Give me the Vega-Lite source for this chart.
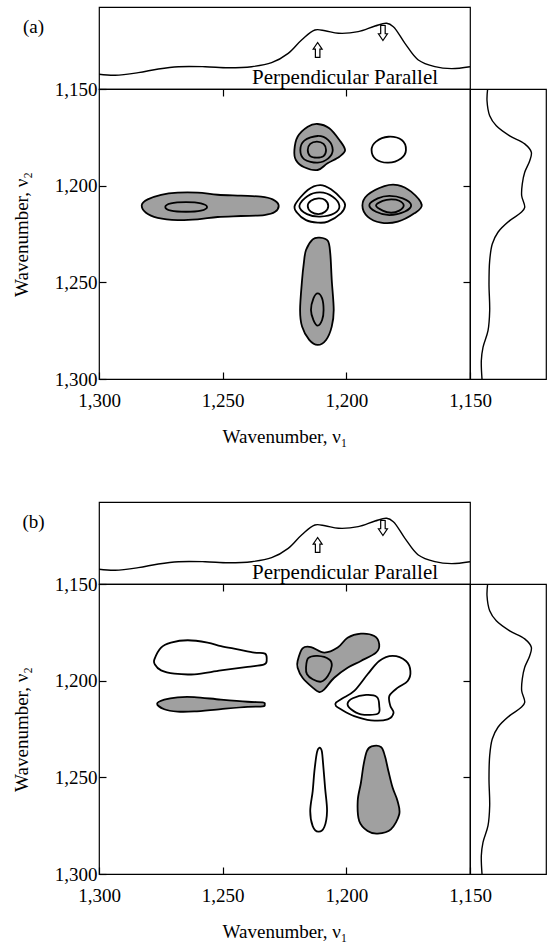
{
  "$schema": "https://vega.github.io/schema/vega-lite/v6.json",
  "padding": {"left": 11, "top": 6, "right": 0, "bottom": 0},
  "datasets": {
    "spectrum_top": [
      {"wn": 1300.0, "absorbance": 0.180}, {"wn": 1293.5, "absorbance": 0.167}, {"wn": 1284.1, "absorbance": 0.199},
      {"wn": 1276.0, "absorbance": 0.244}, {"wn": 1267.9, "absorbance": 0.272}, {"wn": 1257.1, "absorbance": 0.272},
      {"wn": 1247.7, "absorbance": 0.260}, {"wn": 1238.3, "absorbance": 0.272}, {"wn": 1230.2, "absorbance": 0.321},
      {"wn": 1223.5, "absorbance": 0.435}, {"wn": 1218.1, "absorbance": 0.598}, {"wn": 1212.7, "absorbance": 0.720},
      {"wn": 1208.6, "absorbance": 0.711}, {"wn": 1203.2, "absorbance": 0.679}, {"wn": 1195.2, "absorbance": 0.699},
      {"wn": 1188.4, "absorbance": 0.768}, {"wn": 1183.7, "absorbance": 0.801}, {"wn": 1181.0, "absorbance": 0.760},
      {"wn": 1176.3, "absorbance": 0.557}, {"wn": 1170.9, "absorbance": 0.354}, {"wn": 1164.2, "absorbance": 0.272},
      {"wn": 1157.4, "absorbance": 0.248}, {"wn": 1150.0, "absorbance": 0.272}
    ],
    "spectrum_side": [
      {"wn": 1150.0, "absorbance": 0.232}, {"wn": 1156.1, "absorbance": 0.224}, {"wn": 1163.8, "absorbance": 0.259},
      {"wn": 1169.0, "absorbance": 0.346}, {"wn": 1174.2, "absorbance": 0.522}, {"wn": 1178.4, "absorbance": 0.720},
      {"wn": 1182.7, "absorbance": 0.807}, {"wn": 1187.1, "absorbance": 0.786}, {"wn": 1193.1, "absorbance": 0.720},
      {"wn": 1199.1, "absorbance": 0.688}, {"wn": 1205.2, "absorbance": 0.680}, {"wn": 1211.2, "absorbance": 0.720},
      {"wn": 1213.8, "absorbance": 0.675}, {"wn": 1218.1, "absorbance": 0.522}, {"wn": 1224.1, "absorbance": 0.368},
      {"wn": 1230.2, "absorbance": 0.293}, {"wn": 1238.8, "absorbance": 0.259}, {"wn": 1250.9, "absorbance": 0.250},
      {"wn": 1264.7, "absorbance": 0.259}, {"wn": 1275.0, "absorbance": 0.237}, {"wn": 1283.6, "absorbance": 0.171},
      {"wn": 1290.5, "absorbance": 0.149}, {"wn": 1300.0, "absorbance": 0.158}
    ],
    "top_words": [
      {"wn": 1200.5, "absorbance": 0.06, "label": "Perpendicular Parallel"}
    ],
    "top_arrows": [
      {"wn": 1211.6, "absorbance": 0.476, "polarization": "perpendicular"},
      {"wn": 1185.2, "absorbance": 0.683, "polarization": "parallel"}
    ],
    "contours_a": [
      {"id": "a1", "level": "outer", "sign": "negative", "i": 0, "v1": 1282.7, "v2": 1210.0},
      {"id": "a1", "level": "outer", "sign": "negative", "i": 1, "v1": 1280.3, "v2": 1207.1},
      {"id": "a1", "level": "outer", "sign": "negative", "i": 2, "v1": 1274.9, "v2": 1204.7},
      {"id": "a1", "level": "outer", "sign": "negative", "i": 3, "v1": 1268.2, "v2": 1203.6},
      {"id": "a1", "level": "outer", "sign": "negative", "i": 4, "v1": 1260.1, "v2": 1203.6},
      {"id": "a1", "level": "outer", "sign": "negative", "i": 5, "v1": 1252.0, "v2": 1204.7},
      {"id": "a1", "level": "outer", "sign": "negative", "i": 6, "v1": 1242.6, "v2": 1205.2},
      {"id": "a1", "level": "outer", "sign": "negative", "i": 7, "v1": 1234.5, "v2": 1205.7},
      {"id": "a1", "level": "outer", "sign": "negative", "i": 8, "v1": 1229.8, "v2": 1207.1},
      {"id": "a1", "level": "outer", "sign": "negative", "i": 9, "v1": 1227.4, "v2": 1210.0},
      {"id": "a1", "level": "outer", "sign": "negative", "i": 10, "v1": 1228.8, "v2": 1213.5},
      {"id": "a1", "level": "outer", "sign": "negative", "i": 11, "v1": 1233.2, "v2": 1215.2},
      {"id": "a1", "level": "outer", "sign": "negative", "i": 12, "v1": 1242.6, "v2": 1215.7},
      {"id": "a1", "level": "outer", "sign": "negative", "i": 13, "v1": 1252.0, "v2": 1216.2},
      {"id": "a1", "level": "outer", "sign": "negative", "i": 14, "v1": 1260.1, "v2": 1217.4},
      {"id": "a1", "level": "outer", "sign": "negative", "i": 15, "v1": 1268.2, "v2": 1217.8},
      {"id": "a1", "level": "outer", "sign": "negative", "i": 16, "v1": 1276.3, "v2": 1216.6},
      {"id": "a1", "level": "outer", "sign": "negative", "i": 17, "v1": 1281.0, "v2": 1214.0},
      {"id": "a1i", "level": "inner", "sign": "negative", "i": 0, "v1": 1273.2, "v2": 1211.0},
      {"id": "a1i", "level": "inner", "sign": "negative", "i": 1, "v1": 1270.9, "v2": 1209.1},
      {"id": "a1i", "level": "inner", "sign": "negative", "i": 2, "v1": 1264.8, "v2": 1208.5},
      {"id": "a1i", "level": "inner", "sign": "negative", "i": 3, "v1": 1258.8, "v2": 1209.1},
      {"id": "a1i", "level": "inner", "sign": "negative", "i": 4, "v1": 1256.3, "v2": 1211.0},
      {"id": "a1i", "level": "inner", "sign": "negative", "i": 5, "v1": 1258.8, "v2": 1212.9},
      {"id": "a1i", "level": "inner", "sign": "negative", "i": 6, "v1": 1264.8, "v2": 1213.5},
      {"id": "a1i", "level": "inner", "sign": "negative", "i": 7, "v1": 1270.9, "v2": 1212.9},
      {"id": "a2", "level": "outer", "sign": "positive", "i": 0, "v1": 1220.75, "v2": 1210.0},
      {"id": "a2", "level": "outer", "sign": "positive", "i": 1, "v1": 1215.6, "v2": 1202.2},
      {"id": "a2", "level": "outer", "sign": "positive", "i": 2, "v1": 1210.6, "v2": 1199.7},
      {"id": "a2", "level": "outer", "sign": "positive", "i": 3, "v1": 1206.2, "v2": 1201.9},
      {"id": "a2", "level": "outer", "sign": "positive", "i": 4, "v1": 1201.5, "v2": 1207.4},
      {"id": "a2", "level": "outer", "sign": "positive", "i": 5, "v1": 1200.5, "v2": 1210.3},
      {"id": "a2", "level": "outer", "sign": "positive", "i": 6, "v1": 1202.2, "v2": 1214.3},
      {"id": "a2", "level": "outer", "sign": "positive", "i": 7, "v1": 1207.5, "v2": 1218.6},
      {"id": "a2", "level": "outer", "sign": "positive", "i": 8, "v1": 1211.6, "v2": 1219.1},
      {"id": "a2", "level": "outer", "sign": "positive", "i": 9, "v1": 1216.3, "v2": 1217.8},
      {"id": "a2", "level": "outer", "sign": "positive", "i": 10, "v1": 1219.9, "v2": 1214.0},
      {"id": "a2m", "level": "inner", "sign": "positive", "i": 0, "v1": 1219.0, "v2": 1210.5},
      {"id": "a2m", "level": "inner", "sign": "positive", "i": 1, "v1": 1215.6, "v2": 1205.3},
      {"id": "a2m", "level": "inner", "sign": "positive", "i": 2, "v1": 1210.6, "v2": 1203.5},
      {"id": "a2m", "level": "inner", "sign": "positive", "i": 3, "v1": 1205.5, "v2": 1205.7},
      {"id": "a2m", "level": "inner", "sign": "positive", "i": 4, "v1": 1202.8, "v2": 1210.5},
      {"id": "a2m", "level": "inner", "sign": "positive", "i": 5, "v1": 1204.8, "v2": 1214.3},
      {"id": "a2m", "level": "inner", "sign": "positive", "i": 6, "v1": 1210.6, "v2": 1216.0},
      {"id": "a2m", "level": "inner", "sign": "positive", "i": 7, "v1": 1215.9, "v2": 1214.7},
      {"id": "a2i", "level": "inner", "sign": "positive", "i": 0, "v1": 1215.6, "v2": 1210.5},
      {"id": "a2i", "level": "inner", "sign": "positive", "i": 1, "v1": 1214.3, "v2": 1207.8},
      {"id": "a2i", "level": "inner", "sign": "positive", "i": 2, "v1": 1211.3, "v2": 1206.6},
      {"id": "a2i", "level": "inner", "sign": "positive", "i": 3, "v1": 1208.6, "v2": 1207.4},
      {"id": "a2i", "level": "inner", "sign": "positive", "i": 4, "v1": 1207.3, "v2": 1210.5},
      {"id": "a2i", "level": "inner", "sign": "positive", "i": 5, "v1": 1208.6, "v2": 1213.5},
      {"id": "a2i", "level": "inner", "sign": "positive", "i": 6, "v1": 1211.3, "v2": 1214.7},
      {"id": "a2i", "level": "inner", "sign": "positive", "i": 7, "v1": 1214.3, "v2": 1213.5},
      {"id": "a3", "level": "outer", "sign": "negative", "i": 0, "v1": 1193.5, "v2": 1210.3},
      {"id": "a3", "level": "outer", "sign": "negative", "i": 1, "v1": 1191.4, "v2": 1204.8},
      {"id": "a3", "level": "outer", "sign": "negative", "i": 2, "v1": 1184.6, "v2": 1200.2},
      {"id": "a3", "level": "outer", "sign": "negative", "i": 3, "v1": 1179.2, "v2": 1199.7},
      {"id": "a3", "level": "outer", "sign": "negative", "i": 4, "v1": 1173.8, "v2": 1203.1},
      {"id": "a3", "level": "outer", "sign": "negative", "i": 5, "v1": 1169.5, "v2": 1210.0},
      {"id": "a3", "level": "outer", "sign": "negative", "i": 6, "v1": 1172.5, "v2": 1214.3},
      {"id": "a3", "level": "outer", "sign": "negative", "i": 7, "v1": 1179.2, "v2": 1218.6},
      {"id": "a3", "level": "outer", "sign": "negative", "i": 8, "v1": 1186.0, "v2": 1219.1},
      {"id": "a3", "level": "outer", "sign": "negative", "i": 9, "v1": 1191.4, "v2": 1216.0},
      {"id": "a3m", "level": "inner", "sign": "negative", "i": 0, "v1": 1190.7, "v2": 1210.0},
      {"id": "a3m", "level": "inner", "sign": "negative", "i": 1, "v1": 1187.3, "v2": 1206.6},
      {"id": "a3m", "level": "inner", "sign": "negative", "i": 2, "v1": 1182.6, "v2": 1205.3},
      {"id": "a3m", "level": "inner", "sign": "negative", "i": 3, "v1": 1177.2, "v2": 1206.6},
      {"id": "a3m", "level": "inner", "sign": "negative", "i": 4, "v1": 1173.8, "v2": 1210.0},
      {"id": "a3m", "level": "inner", "sign": "negative", "i": 5, "v1": 1176.5, "v2": 1213.5},
      {"id": "a3m", "level": "inner", "sign": "negative", "i": 6, "v1": 1182.6, "v2": 1215.2},
      {"id": "a3m", "level": "inner", "sign": "negative", "i": 7, "v1": 1188.0, "v2": 1213.5},
      {"id": "a3i", "level": "inner", "sign": "negative", "i": 0, "v1": 1188.0, "v2": 1210.3},
      {"id": "a3i", "level": "inner", "sign": "negative", "i": 1, "v1": 1185.3, "v2": 1207.9},
      {"id": "a3i", "level": "inner", "sign": "negative", "i": 2, "v1": 1181.9, "v2": 1207.1},
      {"id": "a3i", "level": "inner", "sign": "negative", "i": 3, "v1": 1178.6, "v2": 1207.8},
      {"id": "a3i", "level": "inner", "sign": "negative", "i": 4, "v1": 1176.8, "v2": 1210.3},
      {"id": "a3i", "level": "inner", "sign": "negative", "i": 5, "v1": 1178.6, "v2": 1212.9},
      {"id": "a3i", "level": "inner", "sign": "negative", "i": 6, "v1": 1181.9, "v2": 1214.0},
      {"id": "a3i", "level": "inner", "sign": "negative", "i": 7, "v1": 1185.3, "v2": 1212.9},
      {"id": "a4", "level": "outer", "sign": "negative", "i": 0, "v1": 1216.3, "v2": 1233.3},
      {"id": "a4", "level": "outer", "sign": "negative", "i": 1, "v1": 1213.6, "v2": 1227.8},
      {"id": "a4", "level": "outer", "sign": "negative", "i": 2, "v1": 1210.9, "v2": 1226.9},
      {"id": "a4", "level": "outer", "sign": "negative", "i": 3, "v1": 1207.5, "v2": 1228.5},
      {"id": "a4", "level": "outer", "sign": "negative", "i": 4, "v1": 1206.5, "v2": 1235.0},
      {"id": "a4", "level": "outer", "sign": "negative", "i": 5, "v1": 1205.9, "v2": 1248.8},
      {"id": "a4", "level": "outer", "sign": "negative", "i": 6, "v1": 1205.1, "v2": 1264.3},
      {"id": "a4", "level": "outer", "sign": "negative", "i": 7, "v1": 1205.9, "v2": 1272.9},
      {"id": "a4", "level": "outer", "sign": "negative", "i": 8, "v1": 1208.2, "v2": 1279.8},
      {"id": "a4", "level": "outer", "sign": "negative", "i": 9, "v1": 1211.6, "v2": 1282.4},
      {"id": "a4", "level": "outer", "sign": "negative", "i": 10, "v1": 1215.0, "v2": 1279.8},
      {"id": "a4", "level": "outer", "sign": "negative", "i": 11, "v1": 1217.9, "v2": 1272.9},
      {"id": "a4", "level": "outer", "sign": "negative", "i": 12, "v1": 1218.7, "v2": 1264.3},
      {"id": "a4", "level": "outer", "sign": "negative", "i": 13, "v1": 1217.9, "v2": 1248.8},
      {"id": "a4", "level": "outer", "sign": "negative", "i": 14, "v1": 1217.2, "v2": 1240.2},
      {"id": "a4i", "level": "inner", "sign": "negative", "i": 0, "v1": 1214.3, "v2": 1264.3},
      {"id": "a4i", "level": "inner", "sign": "negative", "i": 1, "v1": 1213.3, "v2": 1258.3},
      {"id": "a4i", "level": "inner", "sign": "negative", "i": 2, "v1": 1211.6, "v2": 1255.7},
      {"id": "a4i", "level": "inner", "sign": "negative", "i": 3, "v1": 1209.8, "v2": 1258.3},
      {"id": "a4i", "level": "inner", "sign": "negative", "i": 4, "v1": 1209.2, "v2": 1264.3},
      {"id": "a4i", "level": "inner", "sign": "negative", "i": 5, "v1": 1209.8, "v2": 1269.5},
      {"id": "a4i", "level": "inner", "sign": "negative", "i": 6, "v1": 1211.6, "v2": 1272.4},
      {"id": "a4i", "level": "inner", "sign": "negative", "i": 7, "v1": 1213.3, "v2": 1269.5},
      {"id": "a5", "level": "outer", "sign": "negative", "i": 0, "v1": 1221.0, "v2": 1181.6},
      {"id": "a5", "level": "outer", "sign": "negative", "i": 1, "v1": 1219.7, "v2": 1174.7},
      {"id": "a5", "level": "outer", "sign": "negative", "i": 2, "v1": 1215.6, "v2": 1169.5},
      {"id": "a5", "level": "outer", "sign": "negative", "i": 3, "v1": 1211.6, "v2": 1168.1},
      {"id": "a5", "level": "outer", "sign": "negative", "i": 4, "v1": 1206.9, "v2": 1170.3},
      {"id": "a5", "level": "outer", "sign": "negative", "i": 5, "v1": 1202.8, "v2": 1176.4},
      {"id": "a5", "level": "outer", "sign": "negative", "i": 6, "v1": 1200.5, "v2": 1181.6},
      {"id": "a5", "level": "outer", "sign": "negative", "i": 7, "v1": 1202.8, "v2": 1185.0},
      {"id": "a5", "level": "outer", "sign": "negative", "i": 8, "v1": 1207.6, "v2": 1188.4},
      {"id": "a5", "level": "outer", "sign": "negative", "i": 9, "v1": 1211.6, "v2": 1191.9},
      {"id": "a5", "level": "outer", "sign": "negative", "i": 10, "v1": 1217.0, "v2": 1190.5},
      {"id": "a5", "level": "outer", "sign": "negative", "i": 11, "v1": 1220.4, "v2": 1186.7},
      {"id": "a5m", "level": "inner", "sign": "negative", "i": 0, "v1": 1218.6, "v2": 1181.6},
      {"id": "a5m", "level": "inner", "sign": "negative", "i": 1, "v1": 1217.0, "v2": 1176.7},
      {"id": "a5m", "level": "inner", "sign": "negative", "i": 2, "v1": 1211.6, "v2": 1174.3},
      {"id": "a5m", "level": "inner", "sign": "negative", "i": 3, "v1": 1207.3, "v2": 1176.4},
      {"id": "a5m", "level": "inner", "sign": "negative", "i": 4, "v1": 1205.5, "v2": 1181.6},
      {"id": "a5m", "level": "inner", "sign": "negative", "i": 5, "v1": 1207.3, "v2": 1185.9},
      {"id": "a5m", "level": "inner", "sign": "negative", "i": 6, "v1": 1211.6, "v2": 1188.1},
      {"id": "a5m", "level": "inner", "sign": "negative", "i": 7, "v1": 1217.0, "v2": 1186.4},
      {"id": "a5i", "level": "inner", "sign": "negative", "i": 0, "v1": 1215.6, "v2": 1181.6},
      {"id": "a5i", "level": "inner", "sign": "negative", "i": 1, "v1": 1214.6, "v2": 1178.4},
      {"id": "a5i", "level": "inner", "sign": "negative", "i": 2, "v1": 1211.9, "v2": 1177.2},
      {"id": "a5i", "level": "inner", "sign": "negative", "i": 3, "v1": 1209.2, "v2": 1178.4},
      {"id": "a5i", "level": "inner", "sign": "negative", "i": 4, "v1": 1208.2, "v2": 1181.6},
      {"id": "a5i", "level": "inner", "sign": "negative", "i": 5, "v1": 1209.2, "v2": 1184.7},
      {"id": "a5i", "level": "inner", "sign": "negative", "i": 6, "v1": 1211.9, "v2": 1185.5},
      {"id": "a5i", "level": "inner", "sign": "negative", "i": 7, "v1": 1214.6, "v2": 1184.7},
      {"id": "a6", "level": "outer", "sign": "positive", "i": 0, "v1": 1189.8, "v2": 1181.6},
      {"id": "a6", "level": "outer", "sign": "positive", "i": 1, "v1": 1188.0, "v2": 1177.2},
      {"id": "a6", "level": "outer", "sign": "positive", "i": 2, "v1": 1183.0, "v2": 1174.7},
      {"id": "a6", "level": "outer", "sign": "positive", "i": 3, "v1": 1177.6, "v2": 1176.4},
      {"id": "a6", "level": "outer", "sign": "positive", "i": 4, "v1": 1175.9, "v2": 1181.6},
      {"id": "a6", "level": "outer", "sign": "positive", "i": 5, "v1": 1177.9, "v2": 1185.9},
      {"id": "a6", "level": "outer", "sign": "positive", "i": 6, "v1": 1183.0, "v2": 1188.1},
      {"id": "a6", "level": "outer", "sign": "positive", "i": 7, "v1": 1188.0, "v2": 1186.4}
    ],
    "contours_b": [
      {"id": "b1", "level": "outer", "sign": "positive", "i": 0, "v1": 1277.6, "v2": 1189.0},
      {"id": "b1", "level": "outer", "sign": "positive", "i": 1, "v1": 1274.9, "v2": 1182.9},
      {"id": "b1", "level": "outer", "sign": "positive", "i": 2, "v1": 1270.9, "v2": 1180.3},
      {"id": "b1", "level": "outer", "sign": "positive", "i": 3, "v1": 1264.1, "v2": 1179.1},
      {"id": "b1", "level": "outer", "sign": "positive", "i": 4, "v1": 1256.1, "v2": 1180.3},
      {"id": "b1", "level": "outer", "sign": "positive", "i": 5, "v1": 1250.7, "v2": 1182.1},
      {"id": "b1", "level": "outer", "sign": "positive", "i": 6, "v1": 1243.9, "v2": 1183.8},
      {"id": "b1", "level": "outer", "sign": "positive", "i": 7, "v1": 1237.2, "v2": 1185.5},
      {"id": "b1", "level": "outer", "sign": "positive", "i": 8, "v1": 1232.9, "v2": 1186.0},
      {"id": "b1", "level": "outer", "sign": "positive", "i": 9, "v1": 1232.2, "v2": 1189.0},
      {"id": "b1", "level": "outer", "sign": "positive", "i": 10, "v1": 1233.2, "v2": 1191.6},
      {"id": "b1", "level": "outer", "sign": "positive", "i": 11, "v1": 1239.9, "v2": 1192.9},
      {"id": "b1", "level": "outer", "sign": "positive", "i": 12, "v1": 1250.7, "v2": 1194.7},
      {"id": "b1", "level": "outer", "sign": "positive", "i": 13, "v1": 1261.4, "v2": 1196.7},
      {"id": "b1", "level": "outer", "sign": "positive", "i": 14, "v1": 1269.5, "v2": 1196.4},
      {"id": "b1", "level": "outer", "sign": "positive", "i": 15, "v1": 1274.9, "v2": 1194.7},
      {"id": "b1", "level": "outer", "sign": "positive", "i": 16, "v1": 1277.4, "v2": 1191.6},
      {"id": "b2", "level": "outer", "sign": "negative", "i": 0, "v1": 1276.5, "v2": 1211.9},
      {"id": "b2", "level": "outer", "sign": "negative", "i": 1, "v1": 1273.6, "v2": 1209.8},
      {"id": "b2", "level": "outer", "sign": "negative", "i": 2, "v1": 1268.2, "v2": 1208.6},
      {"id": "b2", "level": "outer", "sign": "negative", "i": 3, "v1": 1261.5, "v2": 1208.5},
      {"id": "b2", "level": "outer", "sign": "negative", "i": 4, "v1": 1250.7, "v2": 1209.8},
      {"id": "b2", "level": "outer", "sign": "negative", "i": 5, "v1": 1239.9, "v2": 1210.9},
      {"id": "b2", "level": "outer", "sign": "negative", "i": 6, "v1": 1233.8, "v2": 1211.2},
      {"id": "b2", "level": "outer", "sign": "negative", "i": 7, "v1": 1233.0, "v2": 1212.2},
      {"id": "b2", "level": "outer", "sign": "negative", "i": 8, "v1": 1233.8, "v2": 1213.3},
      {"id": "b2", "level": "outer", "sign": "negative", "i": 9, "v1": 1239.9, "v2": 1213.6},
      {"id": "b2", "level": "outer", "sign": "negative", "i": 10, "v1": 1250.7, "v2": 1214.7},
      {"id": "b2", "level": "outer", "sign": "negative", "i": 11, "v1": 1261.5, "v2": 1215.9},
      {"id": "b2", "level": "outer", "sign": "negative", "i": 12, "v1": 1268.2, "v2": 1216.0},
      {"id": "b2", "level": "outer", "sign": "negative", "i": 13, "v1": 1273.6, "v2": 1214.8},
      {"id": "b3", "level": "outer", "sign": "negative", "i": 0, "v1": 1219.7, "v2": 1189.8},
      {"id": "b3", "level": "outer", "sign": "negative", "i": 1, "v1": 1217.7, "v2": 1183.3},
      {"id": "b3", "level": "outer", "sign": "negative", "i": 2, "v1": 1214.3, "v2": 1182.6},
      {"id": "b3", "level": "outer", "sign": "negative", "i": 3, "v1": 1208.9, "v2": 1185.5},
      {"id": "b3", "level": "outer", "sign": "negative", "i": 4, "v1": 1203.5, "v2": 1182.9},
      {"id": "b3", "level": "outer", "sign": "negative", "i": 5, "v1": 1199.5, "v2": 1177.8},
      {"id": "b3", "level": "outer", "sign": "negative", "i": 6, "v1": 1194.1, "v2": 1175.7},
      {"id": "b3", "level": "outer", "sign": "negative", "i": 7, "v1": 1188.7, "v2": 1176.9},
      {"id": "b3", "level": "outer", "sign": "negative", "i": 8, "v1": 1186.7, "v2": 1181.2},
      {"id": "b3", "level": "outer", "sign": "negative", "i": 9, "v1": 1188.0, "v2": 1185.5},
      {"id": "b3", "level": "outer", "sign": "negative", "i": 10, "v1": 1194.1, "v2": 1189.8},
      {"id": "b3", "level": "outer", "sign": "negative", "i": 11, "v1": 1199.5, "v2": 1193.3},
      {"id": "b3", "level": "outer", "sign": "negative", "i": 12, "v1": 1204.9, "v2": 1198.5},
      {"id": "b3", "level": "outer", "sign": "negative", "i": 13, "v1": 1208.9, "v2": 1204.5},
      {"id": "b3", "level": "outer", "sign": "negative", "i": 14, "v1": 1210.9, "v2": 1205.9},
      {"id": "b3", "level": "outer", "sign": "negative", "i": 15, "v1": 1213.6, "v2": 1203.6},
      {"id": "b3", "level": "outer", "sign": "negative", "i": 16, "v1": 1217.7, "v2": 1198.5},
      {"id": "b3", "level": "outer", "sign": "negative", "i": 17, "v1": 1219.7, "v2": 1193.3},
      {"id": "b3i", "level": "inner", "sign": "negative", "i": 0, "v1": 1216.3, "v2": 1193.3},
      {"id": "b3i", "level": "inner", "sign": "negative", "i": 1, "v1": 1215.4, "v2": 1188.4},
      {"id": "b3i", "level": "inner", "sign": "negative", "i": 2, "v1": 1211.6, "v2": 1187.2},
      {"id": "b3i", "level": "inner", "sign": "negative", "i": 3, "v1": 1206.9, "v2": 1189.0},
      {"id": "b3i", "level": "inner", "sign": "negative", "i": 4, "v1": 1205.9, "v2": 1192.4},
      {"id": "b3i", "level": "inner", "sign": "negative", "i": 5, "v1": 1207.5, "v2": 1197.6},
      {"id": "b3i", "level": "inner", "sign": "negative", "i": 6, "v1": 1210.2, "v2": 1200.5},
      {"id": "b3i", "level": "inner", "sign": "negative", "i": 7, "v1": 1213.6, "v2": 1199.3},
      {"id": "b3i", "level": "inner", "sign": "negative", "i": 8, "v1": 1215.9, "v2": 1196.7},
      {"id": "b4", "level": "outer", "sign": "positive", "i": 0, "v1": 1204.2, "v2": 1211.4},
      {"id": "b4", "level": "outer", "sign": "positive", "i": 1, "v1": 1201.5, "v2": 1209.1},
      {"id": "b4", "level": "outer", "sign": "positive", "i": 2, "v1": 1196.8, "v2": 1205.3},
      {"id": "b4", "level": "outer", "sign": "positive", "i": 3, "v1": 1191.4, "v2": 1196.7},
      {"id": "b4", "level": "outer", "sign": "positive", "i": 4, "v1": 1186.7, "v2": 1189.8},
      {"id": "b4", "level": "outer", "sign": "positive", "i": 5, "v1": 1181.3, "v2": 1187.2},
      {"id": "b4", "level": "outer", "sign": "positive", "i": 6, "v1": 1175.9, "v2": 1189.8},
      {"id": "b4", "level": "outer", "sign": "positive", "i": 7, "v1": 1174.1, "v2": 1195.0},
      {"id": "b4", "level": "outer", "sign": "positive", "i": 8, "v1": 1175.2, "v2": 1200.2},
      {"id": "b4", "level": "outer", "sign": "positive", "i": 9, "v1": 1179.2, "v2": 1203.6},
      {"id": "b4", "level": "outer", "sign": "positive", "i": 10, "v1": 1182.6, "v2": 1207.9},
      {"id": "b4", "level": "outer", "sign": "positive", "i": 11, "v1": 1182.2, "v2": 1213.1},
      {"id": "b4", "level": "outer", "sign": "positive", "i": 12, "v1": 1180.9, "v2": 1216.6},
      {"id": "b4", "level": "outer", "sign": "positive", "i": 13, "v1": 1183.3, "v2": 1220.0},
      {"id": "b4", "level": "outer", "sign": "positive", "i": 14, "v1": 1190.0, "v2": 1220.5},
      {"id": "b4", "level": "outer", "sign": "positive", "i": 15, "v1": 1196.8, "v2": 1218.3},
      {"id": "b4", "level": "outer", "sign": "positive", "i": 16, "v1": 1202.2, "v2": 1214.8},
      {"id": "b4", "level": "outer", "sign": "positive", "i": 17, "v1": 1204.2, "v2": 1213.1},
      {"id": "b4i", "level": "inner", "sign": "positive", "i": 0, "v1": 1199.5, "v2": 1211.9},
      {"id": "b4i", "level": "inner", "sign": "positive", "i": 1, "v1": 1197.4, "v2": 1209.1},
      {"id": "b4i", "level": "inner", "sign": "positive", "i": 2, "v1": 1192.0, "v2": 1207.4},
      {"id": "b4i", "level": "inner", "sign": "positive", "i": 3, "v1": 1187.6, "v2": 1208.5},
      {"id": "b4i", "level": "inner", "sign": "positive", "i": 4, "v1": 1186.7, "v2": 1213.1},
      {"id": "b4i", "level": "inner", "sign": "positive", "i": 5, "v1": 1187.3, "v2": 1217.1},
      {"id": "b4i", "level": "inner", "sign": "positive", "i": 6, "v1": 1194.1, "v2": 1217.4},
      {"id": "b4i", "level": "inner", "sign": "positive", "i": 7, "v1": 1198.1, "v2": 1214.8},
      {"id": "b5", "level": "outer", "sign": "positive", "i": 0, "v1": 1210.9, "v2": 1234.7},
      {"id": "b5", "level": "outer", "sign": "positive", "i": 1, "v1": 1211.9, "v2": 1237.2},
      {"id": "b5", "level": "outer", "sign": "positive", "i": 2, "v1": 1212.9, "v2": 1246.7},
      {"id": "b5", "level": "outer", "sign": "positive", "i": 3, "v1": 1213.6, "v2": 1257.1},
      {"id": "b5", "level": "outer", "sign": "positive", "i": 4, "v1": 1214.6, "v2": 1267.4},
      {"id": "b5", "level": "outer", "sign": "positive", "i": 5, "v1": 1213.6, "v2": 1275.2},
      {"id": "b5", "level": "outer", "sign": "positive", "i": 6, "v1": 1211.3, "v2": 1278.1},
      {"id": "b5", "level": "outer", "sign": "positive", "i": 7, "v1": 1208.9, "v2": 1275.7},
      {"id": "b5", "level": "outer", "sign": "positive", "i": 8, "v1": 1207.8, "v2": 1267.4},
      {"id": "b5", "level": "outer", "sign": "positive", "i": 9, "v1": 1208.6, "v2": 1255.3},
      {"id": "b5", "level": "outer", "sign": "positive", "i": 10, "v1": 1209.6, "v2": 1239.8},
      {"id": "b5", "level": "outer", "sign": "positive", "i": 11, "v1": 1210.0, "v2": 1236.0},
      {"id": "b6", "level": "outer", "sign": "negative", "i": 0, "v1": 1189.8, "v2": 1234.0},
      {"id": "b6", "level": "outer", "sign": "negative", "i": 1, "v1": 1191.7, "v2": 1236.4},
      {"id": "b6", "level": "outer", "sign": "negative", "i": 2, "v1": 1193.0, "v2": 1243.3},
      {"id": "b6", "level": "outer", "sign": "negative", "i": 3, "v1": 1194.1, "v2": 1252.8},
      {"id": "b6", "level": "outer", "sign": "negative", "i": 4, "v1": 1195.4, "v2": 1262.2},
      {"id": "b6", "level": "outer", "sign": "negative", "i": 5, "v1": 1194.8, "v2": 1272.6},
      {"id": "b6", "level": "outer", "sign": "negative", "i": 6, "v1": 1191.4, "v2": 1277.8},
      {"id": "b6", "level": "outer", "sign": "negative", "i": 7, "v1": 1187.3, "v2": 1279.1},
      {"id": "b6", "level": "outer", "sign": "negative", "i": 8, "v1": 1182.0, "v2": 1276.9},
      {"id": "b6", "level": "outer", "sign": "negative", "i": 9, "v1": 1178.6, "v2": 1269.1},
      {"id": "b6", "level": "outer", "sign": "negative", "i": 10, "v1": 1179.3, "v2": 1262.2},
      {"id": "b6", "level": "outer", "sign": "negative", "i": 11, "v1": 1181.3, "v2": 1255.3},
      {"id": "b6", "level": "outer", "sign": "negative", "i": 12, "v1": 1183.0, "v2": 1246.7},
      {"id": "b6", "level": "outer", "sign": "negative", "i": 13, "v1": 1184.4, "v2": 1239.0},
      {"id": "b6", "level": "outer", "sign": "negative", "i": 14, "v1": 1186.0, "v2": 1234.3}
    ]
  },
  "spacing": 54,
  "vconcat": [
    {
      "columns": 2,
      "spacing": 0,
      "bounds": "flush",
      "concat": [
        {
          "width": 371,
          "height": 82,
          "encoding": {
            "x": {"field": "wn", "type": "quantitative", "scale": {"domain": [1150, 1300], "reverse": true, "nice": false, "zero": false}, "axis": null},
            "y": {"field": "absorbance", "type": "quantitative", "scale": {"domain": [0, 1], "nice": false, "zero": false},
                  "axis": {"title": "(a)", "labels": false, "ticks": false, "domain": false, "minExtent": 0, "titleAngle": 0, "titleAlign": "center", "titleBaseline": "middle", "titleX": -66, "titleY": 19}}
          },
          "layer": [
            {"data": {"name": "spectrum_top"}, "mark": {"type": "line", "color": "black", "strokeWidth": 1.4, "interpolate": "catmull-rom", "clip": true},
             "encoding": {"order": {"field": "wn", "type": "quantitative"}}},
            {"data": {"name": "top_words"}, "mark": {"type": "text", "fontSize": 21, "baseline": "alphabetic", "clip": true},
             "encoding": {"text": {"field": "label"}}},
            {"data": {"name": "top_arrows"}, "mark": {"type": "point", "filled": false, "stroke": "black", "strokeWidth": 1.2, "size": 900, "opacity": 1, "clip": true},
             "encoding": {"shape": {"field": "polarization", "type": "nominal", "legend": null,
               "scale": {"domain": ["perpendicular", "parallel"],
                         "range": ["M-0.15,0.5L0.15,0.5L0.15,-0.05L0.3,-0.05L0,-0.5L-0.3,-0.05L-0.15,-0.05Z", "M-0.15,-0.5L0.15,-0.5L0.15,0.05L0.3,0.05L0,0.5L-0.3,0.05L-0.15,0.05Z"]}}}}
          ]
        },
        {
          "width": 76,
          "height": 82,
          "view": {"stroke": null},
          "data": {"values": []},
          "mark": "point"
        },
        {
          "width": 371,
          "height": 290,
          "data": {"name": "contours_a"},
          "layer": [
            {
              "transform": [{"filter": "datum.level === 'outer'"}],
              "mark": {"type": "line", "interpolate": "cardinal-closed", "stroke": "black", "strokeWidth": 1.8},
              "encoding": {
                "x": {"field": "v1", "type": "quantitative", "scale": {"domain": [1150, 1300], "reverse": true, "nice": false, "zero": false},
                      "axis": {"orient": "bottom", "values": [1150, 1200, 1250, 1300], "format": ",d", "title": "Wavenumber, ν₁", "tickSize": -7, "labelPadding": 19, "titlePadding": 17, "labelFlush": false}},
                "y": {"field": "v2", "type": "quantitative", "scale": {"domain": [1150, 1300], "reverse": true, "nice": false, "zero": false},
                      "axis": {"orient": "left", "values": [1150, 1200, 1250, 1300], "format": ",d", "title": "Wavenumber, ν₂", "tickSize": -7, "labelPadding": 9, "titlePadding": 23, "labelFlush": false}},
                "fill": {"field": "sign", "type": "nominal", "scale": {"domain": ["negative", "positive"], "range": ["#a0a0a0", "#ffffff"]}, "legend": null},
                "detail": {"field": "id"},
                "order": {"field": "i", "type": "quantitative"}
              }
            },
            {
              "transform": [{"filter": "datum.level === 'inner'"}],
              "mark": {"type": "line", "interpolate": "cardinal-closed", "stroke": "black", "strokeWidth": 1.8},
              "encoding": {
                "x": {"field": "v1", "type": "quantitative", "scale": {"domain": [1150, 1300], "reverse": true, "nice": false, "zero": false},
                      "axis": {"orient": "top", "values": [1200, 1250], "labels": false, "title": null, "tickSize": -7, "minExtent": 0, "maxExtent": 0}},
                "y": {"field": "v2", "type": "quantitative", "scale": {"domain": [1150, 1300], "reverse": true, "nice": false, "zero": false},
                      "axis": {"orient": "right", "values": [1200, 1250], "labels": false, "title": null, "tickSize": -7, "minExtent": 0, "maxExtent": 0}},
                "detail": {"field": "id"},
                "order": {"field": "i", "type": "quantitative"}
              }
            }
          ],
          "resolve": {"axis": {"x": "independent", "y": "independent"}}
        },
        {
          "width": 76,
          "height": 290,
          "data": {"name": "spectrum_side"},
          "mark": {"type": "line", "color": "black", "strokeWidth": 1.4, "interpolate": "catmull-rom", "clip": true},
          "encoding": {
            "x": {"field": "absorbance", "type": "quantitative", "scale": {"domain": [0, 1], "nice": false, "zero": false}, "axis": null},
            "y": {"field": "wn", "type": "quantitative", "scale": {"domain": [1150, 1300], "reverse": true, "nice": false, "zero": false}, "axis": null},
            "order": {"field": "wn", "type": "quantitative"}
          }
        }
      ]
    },
    {
      "columns": 2,
      "spacing": 0,
      "bounds": "flush",
      "concat": [
        {
          "width": 371,
          "height": 82,
          "encoding": {
            "x": {"field": "wn", "type": "quantitative", "scale": {"domain": [1150, 1300], "reverse": true, "nice": false, "zero": false}, "axis": null},
            "y": {"field": "absorbance", "type": "quantitative", "scale": {"domain": [0, 1], "nice": false, "zero": false},
                  "axis": {"title": "(b)", "labels": false, "ticks": false, "domain": false, "minExtent": 0, "titleAngle": 0, "titleAlign": "center", "titleBaseline": "middle", "titleX": -66, "titleY": 19}}
          },
          "layer": [
            {"data": {"name": "spectrum_top"}, "mark": {"type": "line", "color": "black", "strokeWidth": 1.4, "interpolate": "catmull-rom", "clip": true},
             "encoding": {"order": {"field": "wn", "type": "quantitative"}}},
            {"data": {"name": "top_words"}, "mark": {"type": "text", "fontSize": 21, "baseline": "alphabetic", "clip": true},
             "encoding": {"text": {"field": "label"}}},
            {"data": {"name": "top_arrows"}, "mark": {"type": "point", "filled": false, "stroke": "black", "strokeWidth": 1.2, "size": 900, "opacity": 1, "clip": true},
             "encoding": {"shape": {"field": "polarization", "type": "nominal", "legend": null,
               "scale": {"domain": ["perpendicular", "parallel"],
                         "range": ["M-0.15,0.5L0.15,0.5L0.15,-0.05L0.3,-0.05L0,-0.5L-0.3,-0.05L-0.15,-0.05Z", "M-0.15,-0.5L0.15,-0.5L0.15,0.05L0.3,0.05L0,0.5L-0.3,0.05L-0.15,0.05Z"]}}}}
          ]
        },
        {
          "width": 76,
          "height": 82,
          "view": {"stroke": null},
          "data": {"values": []},
          "mark": "point"
        },
        {
          "width": 371,
          "height": 290,
          "data": {"name": "contours_b"},
          "layer": [
            {
              "transform": [{"filter": "datum.level === 'outer'"}],
              "mark": {"type": "line", "interpolate": "cardinal-closed", "stroke": "black", "strokeWidth": 1.8},
              "encoding": {
                "x": {"field": "v1", "type": "quantitative", "scale": {"domain": [1150, 1300], "reverse": true, "nice": false, "zero": false},
                      "axis": {"orient": "bottom", "values": [1150, 1200, 1250, 1300], "format": ",d", "title": "Wavenumber, ν₁", "tickSize": -7, "labelPadding": 19, "titlePadding": 17, "labelFlush": false}},
                "y": {"field": "v2", "type": "quantitative", "scale": {"domain": [1150, 1300], "reverse": true, "nice": false, "zero": false},
                      "axis": {"orient": "left", "values": [1150, 1200, 1250, 1300], "format": ",d", "title": "Wavenumber, ν₂", "tickSize": -7, "labelPadding": 9, "titlePadding": 23, "labelFlush": false}},
                "fill": {"field": "sign", "type": "nominal", "scale": {"domain": ["negative", "positive"], "range": ["#a0a0a0", "#ffffff"]}, "legend": null},
                "detail": {"field": "id"},
                "order": {"field": "i", "type": "quantitative"}
              }
            },
            {
              "transform": [{"filter": "datum.level === 'inner'"}],
              "mark": {"type": "line", "interpolate": "cardinal-closed", "stroke": "black", "strokeWidth": 1.8},
              "encoding": {
                "x": {"field": "v1", "type": "quantitative", "scale": {"domain": [1150, 1300], "reverse": true, "nice": false, "zero": false},
                      "axis": {"orient": "top", "values": [1200, 1250], "labels": false, "title": null, "tickSize": -7, "minExtent": 0, "maxExtent": 0}},
                "y": {"field": "v2", "type": "quantitative", "scale": {"domain": [1150, 1300], "reverse": true, "nice": false, "zero": false},
                      "axis": {"orient": "right", "values": [1200, 1250], "labels": false, "title": null, "tickSize": -7, "minExtent": 0, "maxExtent": 0}},
                "detail": {"field": "id"},
                "order": {"field": "i", "type": "quantitative"}
              }
            }
          ],
          "resolve": {"axis": {"x": "independent", "y": "independent"}}
        },
        {
          "width": 76,
          "height": 290,
          "data": {"name": "spectrum_side"},
          "mark": {"type": "line", "color": "black", "strokeWidth": 1.4, "interpolate": "catmull-rom", "clip": true},
          "encoding": {
            "x": {"field": "absorbance", "type": "quantitative", "scale": {"domain": [0, 1], "nice": false, "zero": false}, "axis": null},
            "y": {"field": "wn", "type": "quantitative", "scale": {"domain": [1150, 1300], "reverse": true, "nice": false, "zero": false}, "axis": null},
            "order": {"field": "wn", "type": "quantitative"}
          }
        }
      ]
    }
  ],
  "config": {
    "background": "white",
    "view": {"stroke": "black", "strokeWidth": 1.2},
    "axis": {
      "grid": false,
      "domain": false,
      "labelFont": "Liberation Serif, Times New Roman, serif",
      "labelFontSize": 19,
      "labelColor": "black",
      "titleFont": "Liberation Serif, Times New Roman, serif",
      "titleFontSize": 19,
      "titleFontWeight": "normal",
      "titleColor": "black",
      "tickColor": "black",
      "tickWidth": 1.2
    },
    "text": {"font": "Liberation Serif, Times New Roman, serif", "color": "black"}
  }
}
